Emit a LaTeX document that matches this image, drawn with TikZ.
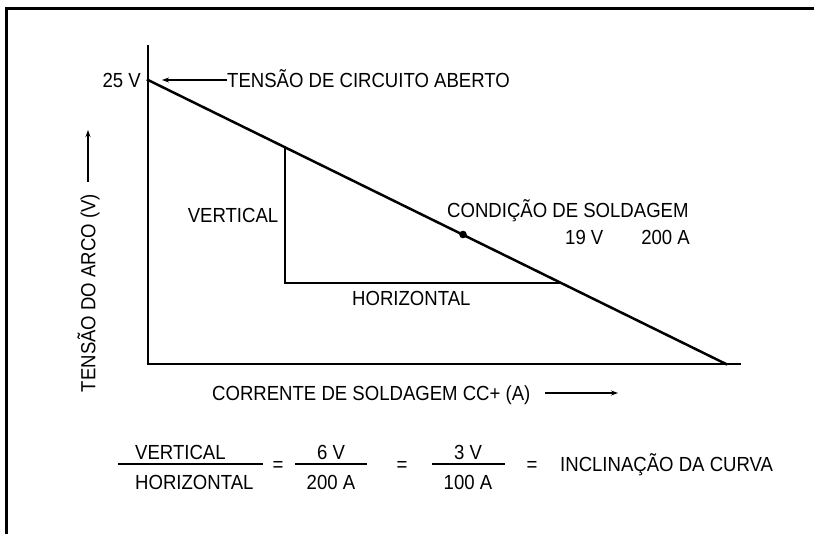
\documentclass[tikz,border=0pt]{standalone}
\usepackage{fontspec}
\setmainfont{Liberation Sans}
\newfontfamily\narrowfont[FakeStretch=0.91]{Liberation Sans}
\usetikzlibrary{arrows.meta}
\begin{document}
\begin{tikzpicture}[x=1pt,y=-1pt,
  lbl/.style={inner sep=0pt, text height=14.6pt, text depth=0pt, font=\narrowfont\fontsize{20.4}{22}\selectfont},
  axisline/.style={line width=2.5pt, line cap=rect},
  thin/.style={line width=1.7pt},
  arr/.style={line width=1.3pt, -{Stealth[length=7pt,width=5pt]}}]
\useasboundingbox (0,0) rectangle (814,534);
% frame (top and left)
\draw[line width=2.8pt] (6.5,534) -- (6.5,8.5) -- (814,8.5);
% axes
\coordinate (Ytop) at (148,46);
\coordinate (O) at (148,364);
\coordinate (Xend) at (740,364);
\draw[axisline] (Ytop) -- (O) -- (Xend);
% load line
\coordinate (V25) at (148,80);
\coordinate (I0) at (726,364);
\draw[axisline] (V25) -- (I0);
% slope triangle
\coordinate (T1) at (285,147.2);
\coordinate (T2) at (285,283);
\coordinate (T3) at (561,283);
\draw[axisline, line join=miter] (T1) -- (T2) -- (T3);
% operating point
\coordinate (P) at (463,234.5);
\fill (P) circle (3.8);
% labels
\node[lbl, anchor=east] (v25) at (141,80) {25 V};
\node[lbl, anchor=west] (ocv) at (227,80) {TENSÃO DE CIRCUITO ABERTO};
\coordinate (ocvtip) at (162,80);
\draw[arr] (ocv.west) -- (ocvtip);
\node[lbl] (vert) at (233,215) {VERTICAL};
\node[lbl, anchor=west] (horiz) at (352,298) {HORIZONTAL};
\node[lbl, anchor=west] (cond) at (447,210) {CONDIÇÃO DE SOLDAGEM};
\node[lbl, anchor=west] (v19) at (565,237) {19 V};
\node[lbl, anchor=east] (a200) at (690,237) {200 A};
% axis titles
\node[lbl, rotate=90] (ylab) at (88,293) {TENSÃO DO ARCO (V)};
\coordinate (yarrS) at (88,182);
\coordinate (yarrE) at (88,130);
\draw[arr] (yarrS) -- (yarrE);
\node[lbl, anchor=west] (xlab) at (212,393) {CORRENTE DE SOLDAGEM CC+ (A)};
\coordinate (xarrS) at (545,393);
\coordinate (xarrE) at (618,393);
\draw[arr] (xarrS) -- (xarrE);
% equation
\node[lbl, anchor=west] (n1) at (135,452) {VERTICAL};
\node[lbl, anchor=west] (d1) at (135,482) {HORIZONTAL};
\coordinate (b1a) at (118,464); \coordinate (b1b) at (263,464);
\draw[thin] (b1a) -- (b1b);
\node[lbl] (eq1) at (278,464) {=};
\node[lbl] (n2) at (331,452) {6 V};
\node[lbl] (d2) at (331,482) {200 A};
\coordinate (b2a) at (295,464); \coordinate (b2b) at (367,464);
\draw[thin] (b2a) -- (b2b);
\node[lbl] (eq2) at (402,464) {=};
\node[lbl] (n3) at (468,452) {3 V};
\node[lbl] (d3) at (468,482) {100 A};
\coordinate (b3a) at (432,464); \coordinate (b3b) at (505,464);
\draw[thin] (b3a) -- (b3b);
\node[lbl] (eq3) at (532,464) {=};
\node[lbl, anchor=west] (incl) at (560,464) {INCLINAÇÃO DA CURVA};
\end{tikzpicture}
\end{document}
